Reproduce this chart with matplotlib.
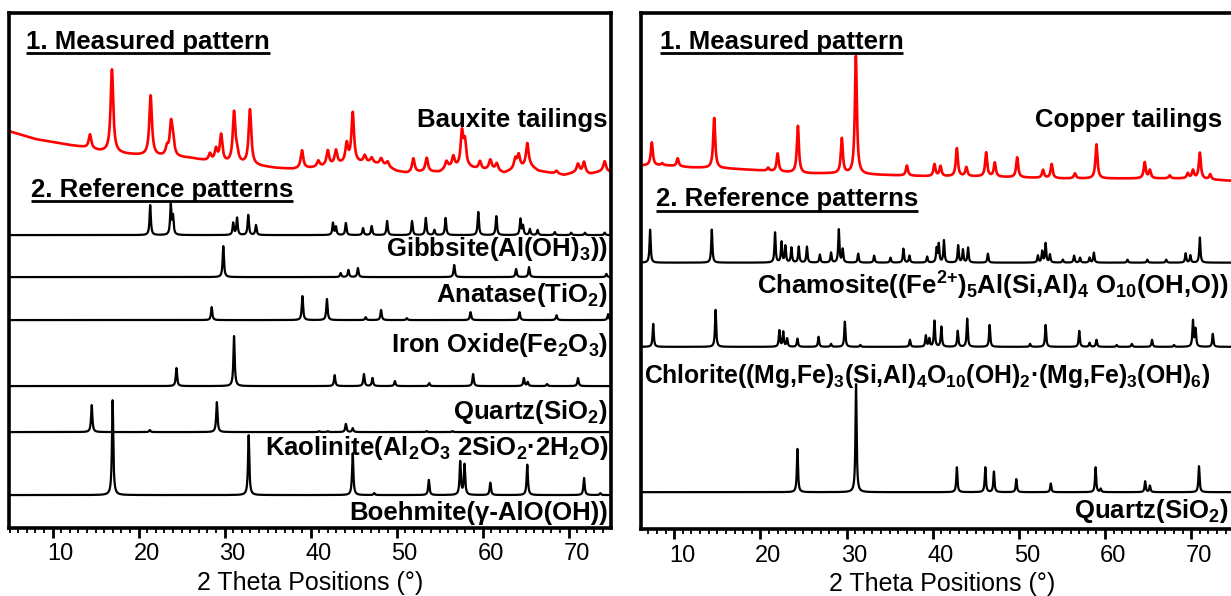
import numpy as np
import matplotlib
matplotlib.use('Agg')
import matplotlib.pyplot as plt
from matplotlib.ticker import MultipleLocator
from matplotlib.transforms import ScaledTranslation

plt.rcParams['font.family'] = ['Liberation Sans', 'DejaVu Sans']
plt.rcParams['mathtext.fontset'] = 'custom'
plt.rcParams['mathtext.rm'] = 'Liberation Sans:bold'
plt.rcParams['mathtext.it'] = 'Liberation Sans:bold'
plt.rcParams['mathtext.bf'] = 'Liberation Sans:bold'

# ---------------- data (2theta in degrees, intensities in a.u.) ----------------
# measured bauxite tailings: background points + peaks above background
baux_bg_x = [4.9, 6.5, 8, 10, 12, 13.5, 15.5, 18.5, 20, 22, 26, 28, 30, 32, 34, 36, 38, 40,
             42, 43.6, 45.5, 47, 48.5, 50, 51.2, 53, 55, 56, 58.5, 60, 61, 62.5, 63.5, 65.5,
             66.5, 68, 69.5, 71, 72.5, 74, 74.9]
baux_bg_y = [397, 393, 389, 386, 383, 381, 377, 374, 373, 372, 370, 367, 365, 364, 362, 360, 359, 360,
             362, 364, 365, 365, 363, 357, 355, 356, 356, 360, 360, 358, 359, 355, 358, 362,
             357, 355, 353, 356, 354, 357, 356]
baux_pk_x = [14.35, 16.9, 21.4, 23.3, 23.77, 24.0, 28.3, 29.0, 29.6, 31.1, 31.45, 32.95, 39.0,
             40.9, 42.0, 42.95, 44.2, 44.9, 46.3, 47.1, 48.2, 48.96, 51.95, 53.5, 55.8, 56.6,
             57.6, 57.95, 59.7, 60.9, 61.65, 63.8, 64.2, 65.2, 68.6, 71.1, 71.8, 74.2]
baux_pk_h = [14, 83, 60, 8, 31, 14, 7, 12, 27, 50, 9, 55, 18,
             6, 15, 14, 19, 50, 7, 5, 6, 5, 14, 14, 7, 11,
             34, 24, 8, 9, 7, 10, 13, 23, 3, 8, 11, 10]

# measured copper tailings
cu_bg_x = [6.2, 9, 12, 16, 20, 25, 28, 32, 36, 40, 45, 50, 55, 60, 65, 70, 76]
cu_bg_y = [363, 363, 361, 360, 358, 355, 355, 354, 353, 352, 352, 351, 350, 350, 350, 350, 347]
cu_pk_x = [7.4, 8.6, 10.4, 14.64, 20.9, 22.0, 24.35, 29.45, 31.08, 37.0, 40.2, 40.9, 42.8, 43.9,
           46.2, 47.2, 49.8, 52.8, 53.8, 56.5, 59.0, 64.6, 65.2, 67.5, 69.6, 70.2, 71.0, 72.2]
cu_pk_h = [23, 2, 8, 50, 3, 18, 47, 35, 118, 10, 12, 10, 28, 9,
           24, 14, 20, 8, 14, 5, 34, 16, 8, 3, 5, 8, 26, 5]

# reference patterns (relative intensity, %)
gibbsite_x = [21.35, 23.74, 24.0, 31.0, 31.45, 32.75, 33.65, 42.6, 42.95, 44.1, 46.1, 47.1, 48.9,
              51.8, 53.4, 54.4, 55.7, 59.5, 61.6, 64.4, 64.7, 65.5, 66.4, 68.4, 70.3, 71.9, 74.2]
gibbsite_i = [100, 100, 60, 40, 57, 67, 33, 40, 27, 40, 23, 30, 47,
              47, 57, 17, 57, 77, 63, 53, 30, 20, 17, 10, 8, 8, 8]
anatase_x = [29.85, 43.5, 44.4, 45.5, 56.7, 63.9, 65.4, 74.4]
anatase_i = [100, 13, 23, 29, 39, 26, 32, 10]
hematite_x = [28.5, 39.05, 41.9, 46.4, 48.2, 51.2, 58.6, 64.3, 68.6, 74.6]
hematite_i = [54, 100, 88, 12, 42, 8, 33, 33, 20, 25]
quartz_b_x = [24.4, 31.1, 42.8, 46.2, 47.2, 49.8, 53.8, 58.9, 64.8, 65.25, 67.5, 71.1]
quartz_b_i = [36, 100, 22, 24, 16, 10, 6, 24, 16, 8, 4, 16]
kaolinite_x = [14.55, 21.3, 29.1, 41.0, 42.0, 44.1, 44.9, 53.5, 56.5]
kaolinite_i = [90, 7, 100, 3, 3, 27, 13, 3, 3]
boehmite_x = [16.98, 32.8, 44.9, 47.4, 53.75, 57.4, 57.9, 60.9, 65.2, 71.8, 73.7]
boehmite_i = [100, 63, 44, 2, 16, 35, 32, 13, 32, 18, 2]

chamosite_x = [7.2, 14.36, 21.7, 22.45, 22.9, 23.6, 24.45, 25.4, 26.9, 28.2, 29.1, 29.55, 31.35,
               33.2, 35.1, 36.6, 37.3, 39.35, 40.45, 40.7, 41.3, 42.95, 43.5, 44.1, 46.4, 52.2,
               52.7, 53.1, 53.6, 55.1, 56.4, 57.1, 58.2, 58.7, 62.6, 64.9, 67.1, 69.35, 69.9, 71.0]
chamosite_i = [100, 100, 91, 62, 50, 45, 48, 48, 24, 30, 100, 40, 27,
               21, 15, 42, 21, 18, 42, 55, 67, 52, 39, 45, 27, 21,
               34, 58, 24, 9, 21, 15, 15, 30, 9, 9, 9, 28, 22, 76]
chlorite_x = [7.56, 14.8, 22.2, 22.65, 23.1, 24.3, 26.75, 28.2, 29.8, 31.6, 37.35, 39.2, 39.6,
              40.2, 41.0, 42.9, 44.0, 46.6, 51.3, 53.1, 57.0, 58.2, 59.0, 61.35, 63.1, 65.45,
              68.0, 70.2, 70.5, 72.5]
chlorite_i = [62, 100, 44, 40, 22, 22, 27, 8, 68, 5, 19, 30, 22,
              70, 54, 43, 76, 59, 8, 59, 43, 11, 19, 5, 8, 19,
              5, 70, 47, 35]
quartz_c_x = [24.3, 31.1, 42.8, 46.1, 47.1, 49.7, 53.7, 58.9, 59.5, 64.65, 65.2, 70.9]
quartz_c_i = [40, 100, 23, 23, 19, 12, 8, 23, 3, 10, 6, 24]

# ---------------- figure ----------------
fig = plt.figure(figsize=(12.31, 5.96), dpi=100)
axL = fig.add_axes([0.0071, 0.114, 0.489, 0.864])
axR = fig.add_axes([0.5211, 0.112, 0.4886, 0.866])


def lorentz(x, pos, inten, fwhm):
    y = np.zeros_like(x)
    for p, h in zip(pos, inten):
        y += h / (1 + ((x - p) / (fwhm / 2)) ** 2)
    return y


def underline(ax, txt, y):
    fig.canvas.draw()
    bb = txt.get_window_extent().transformed(ax.transData.inverted())
    ax.plot([bb.x0, bb.x1], [y, y], color='black', lw=2, solid_capstyle='butt')


def setup(ax, xlim):
    ax.set_xlim(*xlim)
    ax.set_ylim(0, 515)
    ax.set_yticks([])
    for s in ax.spines.values():
        s.set_linewidth(2.6)
    ax.xaxis.set_major_locator(MultipleLocator(10))
    ax.xaxis.set_minor_locator(MultipleLocator(1))
    ax.tick_params(axis='x', which='major', direction='out', length=7, width=2, labelsize=17, pad=4)
    ax.tick_params(axis='x', which='minor', direction='out', length=3.5, width=1.3)
    ax.set_xlabel('2 Theta Positions (°)', fontsize=18, labelpad=4)


bold = dict(fontsize=18.5, fontweight='bold')

# left panel: bauxite
setup(axL, (4.9, 74.9))
x = np.linspace(4.9, 74.9, 8000)
y_meas = np.interp(x, baux_bg_x, baux_bg_y) + lorentz(x, baux_pk_x, baux_pk_h, 0.36)
axL.plot(x, y_meas, color='red', lw=1.9)

refs_L = [(gibbsite_x, gibbsite_i, 293, 30, 'Gibbsite(Al(OH)$_3$))', 272),
          (anatase_x, anatase_i, 251, 31, 'Anatase(TiO$_2$)', 226),
          (hematite_x, hematite_i, 208, 24, 'Iron Oxide(Fe$_2$O$_3$)', 176),
          (quartz_b_x, quartz_b_i, 142, 50, 'Quartz(SiO$_2$)', 109),
          (kaolinite_x, kaolinite_i, 96, 30, 'Kaolinite(Al$_2$O$_3$ 2SiO$_2$·2H$_2$O)', 73),
          (boehmite_x, boehmite_i, 33, 95, 'Boehmite(γ-AlO(OH))', 8)]
for px, pi, base, scale, label, ly in refs_L:
    axL.plot(x, base + lorentz(x, px, np.array(pi) * scale / 100, 0.18), color='black', lw=1.6)
    axL.text(74.6, ly, label, ha='right', va='baseline', **bold)

t1 = axL.text(6.9, 479, '1. Measured pattern', ha='left', va='baseline', **bold)
axL.text(74.5, 401, 'Bauxite tailings', ha='right', va='baseline', **bold)
t2 = axL.text(7.5, 331, '2. Reference patterns', ha='left', va='baseline', **bold)

# right panel: copper
setup(axR, (6.2, 76.0))
x2 = np.linspace(6.2, 76.0, 8000)
y_cu = np.interp(x2, cu_bg_x, cu_bg_y) + lorentz(x2, cu_pk_x, cu_pk_h, 0.28)
axR.plot(x2, y_cu, color='red', lw=1.9)

refs_R = [(chamosite_x, chamosite_i, 266, 33),
          (chlorite_x, chlorite_i, 182, 37),
          (quartz_c_x, quartz_c_i, 37, 108)]
for px, pi, base, scale in refs_R:
    axR.plot(x2, base + lorentz(x2, px, np.array(pi) * scale / 100, 0.16), color='black', lw=1.6)

axR.text(74.3, 234, 'Chamosite((Fe$^{2{+}}$)$_5$Al(Si,Al)$_4$ O$_{10}$(OH,O))', ha='right', va='baseline', **bold)
axR.text(6.5, 146, 'Chlorite((Mg,Fe)$_3$(Si,Al)$_4$O$_{10}$(OH)$_2$·(Mg,Fe)$_3$(OH)$_6$)',
         ha='left', va='baseline', fontsize=17.8, fontweight='bold')
axR.text(74.3, 11, 'Quartz(SiO$_2$)', ha='right', va='baseline', **bold)

t3 = axR.text(8.3, 479, '1. Measured pattern', ha='left', va='baseline', **bold)
axR.text(73.6, 401, 'Copper tailings', ha='right', va='baseline', **bold)
t4 = axR.text(7.9, 323, '2. Reference patterns', ha='left', va='baseline', **bold)

underline(axL, t1, 475)
underline(axL, t2, 327)
underline(axR, t3, 475)
underline(axR, t4, 318)

# tick labels sit a little right of their ticks in the original
shift = ScaledTranslation(0.08, 0, fig.dpi_scale_trans)
for ax in (axL, axR):
    for lab in ax.get_xticklabels():
        lab.set_transform(lab.get_transform() + shift)

fig.savefig('out.png', dpi=100)
